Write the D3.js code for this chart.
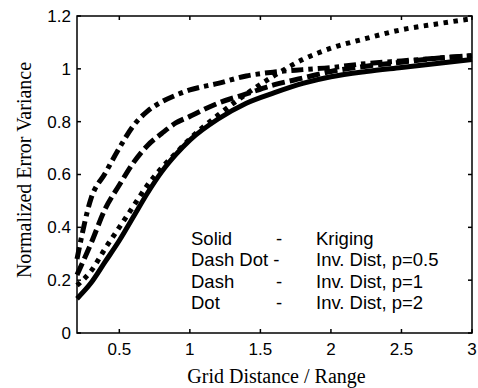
<!DOCTYPE html>
<html>
<head>
    <meta charset="utf-8">
    <title>Normalized Error Variance</title>
    <script src="https://cdnjs.cloudflare.com/ajax/libs/d3/7.8.5/d3.min.js"></script>
    <style>
        body {
            margin: 0;
            background: white;
        }
        .tick-label {
            font-family: "Liberation Sans", Arial, sans-serif;
            font-size: 17px;
            fill: black;
        }
        .axis-title {
            font-family: "Liberation Serif", "Times New Roman", serif;
            font-size: 20px;
            fill: black;
        }
        .legend {
            font-family: "Liberation Sans", Arial, sans-serif;
            font-size: 18.5px;
            fill: black;
        }
    </style>
</head>
<body>
    <div id="chart"></div>

    <script>
        // grid distance / range
        const xs = [0.2, 0.3, 0.4, 0.5, 0.6, 0.7, 0.8, 0.9, 1.0, 1.2, 1.4, 1.6, 1.8, 2.0, 2.25, 2.5, 2.75, 3.0];

        // normalized error variance
        const kriging = [0.13, 0.19, 0.27, 0.35, 0.44, 0.53, 0.61, 0.675, 0.73, 0.81, 0.87, 0.91, 0.945, 0.97, 0.99, 1.005, 1.02, 1.035];
        const invDistP05 = [0.28, 0.51, 0.605, 0.70, 0.785, 0.84, 0.875, 0.90, 0.92, 0.945, 0.973, 0.988, 0.997, 1.005, 1.02, 1.03, 1.04, 1.05];
        const invDistP1 = [0.22, 0.34, 0.47, 0.56, 0.645, 0.71, 0.755, 0.795, 0.82, 0.87, 0.905, 0.94, 0.965, 0.99, 1.01, 1.025, 1.04, 1.05];
        const invDistP2 = [0.18, 0.235, 0.32, 0.40, 0.48, 0.56, 0.625, 0.68, 0.735, 0.825, 0.905, 0.975, 1.035, 1.078, 1.115, 1.148, 1.17, 1.19];

        const xTicks = [0.5, 1, 1.5, 2, 2.5, 3];
        const yTicks = [0, 0.2, 0.4, 0.6, 0.8, 1, 1.2];

        const legendStyles = ["Solid", "Dash Dot -", "Dash", "Dot"];
        const legendMethods = ["Kriging", "Inv. Dist, p=0.5", "Inv. Dist, p=1", "Inv. Dist, p=2"];

        const width = 478, height = 388;
        const margin = { top: 16, right: 6, bottom: 55, left: 77 };

        const svg = d3.select("#chart")
            .append("svg")
            .attr("width", width)
            .attr("height", height);

        const x = d3.scaleLinear().domain([0.2, 3]).range([margin.left, width - margin.right]);
        const y = d3.scaleLinear().domain([0, 1.2]).range([height - margin.bottom, margin.top]);

        const series = [
            { values: kriging, dash: null, width: 5 },
            { values: invDistP05, dash: "12,5,4.5,5", width: 5 },
            { values: invDistP1, dash: "13,5", width: 5 },
            { values: invDistP2, dash: "4.5,5.5", width: 5 }
        ];

        const line = d3.line()
            .x(d => x(d[0]))
            .y(d => y(d[1]))
            .curve(d3.curveMonotoneX);

        svg.append("g")
            .selectAll("path")
            .data(series)
            .join("path")
            .attr("d", s => line(xs.map((v, i) => [v, s.values[i]])))
            .attr("fill", "none")
            .attr("stroke", "black")
            .attr("stroke-width", s => s.width)
            .attr("stroke-dasharray", s => s.dash);

        // frame with inward ticks on all four sides
        const tickLen = 4;
        const x0 = margin.left, x1 = width - margin.right;
        const y0 = height - margin.bottom, y1 = margin.top;

        const frame = svg.append("g")
            .attr("stroke", "black")
            .attr("stroke-width", 1.5);

        frame.append("rect")
            .attr("x", x0)
            .attr("y", y1)
            .attr("width", x1 - x0)
            .attr("height", y0 - y1)
            .attr("fill", "none");

        xTicks.forEach(t => {
            frame.append("line").attr("x1", x(t)).attr("x2", x(t)).attr("y1", y0).attr("y2", y0 - tickLen);
            frame.append("line").attr("x1", x(t)).attr("x2", x(t)).attr("y1", y1).attr("y2", y1 + tickLen);
        });
        yTicks.forEach(t => {
            frame.append("line").attr("x1", x0).attr("x2", x0 + tickLen).attr("y1", y(t)).attr("y2", y(t));
            frame.append("line").attr("x1", x1).attr("x2", x1 - tickLen).attr("y1", y(t)).attr("y2", y(t));
        });

        svg.append("g")
            .selectAll("text")
            .data(xTicks)
            .join("text")
            .attr("class", "tick-label")
            .attr("x", d => x(d))
            .attr("y", y0 + 22)
            .attr("text-anchor", "middle")
            .text(d => d);

        svg.append("g")
            .selectAll("text")
            .data(yTicks)
            .join("text")
            .attr("class", "tick-label")
            .attr("x", x0 - 6)
            .attr("y", d => y(d))
            .attr("dy", "0.35em")
            .attr("text-anchor", "end")
            .text(d => d);

        svg.append("text")
            .attr("class", "axis-title")
            .attr("x", (x0 + x1) / 2 + 2)
            .attr("y", 383)
            .attr("text-anchor", "middle")
            .text("Grid Distance / Range");

        svg.append("text")
            .attr("class", "axis-title")
            .attr("transform", `translate(31,170) rotate(-90)`)
            .attr("text-anchor", "middle")
            .text("Normalized Error Variance");

        // legend: style - method
        const rowY = [245, 266.3, 287.7, 309];
        const legend = svg.append("g");
        legendStyles.forEach((s, i) => {
            legend.append("text").attr("class", "legend").attr("x", 191).attr("y", rowY[i]).text(s);
            if (i !== 1) {
                legend.append("text").attr("class", "legend").attr("x", 279).attr("y", rowY[i])
                    .attr("text-anchor", "middle").text("-");
            }
            legend.append("text").attr("class", "legend").attr("x", 316).attr("y", rowY[i]).text(legendMethods[i]);
        });
    </script>
</body>
</html>
